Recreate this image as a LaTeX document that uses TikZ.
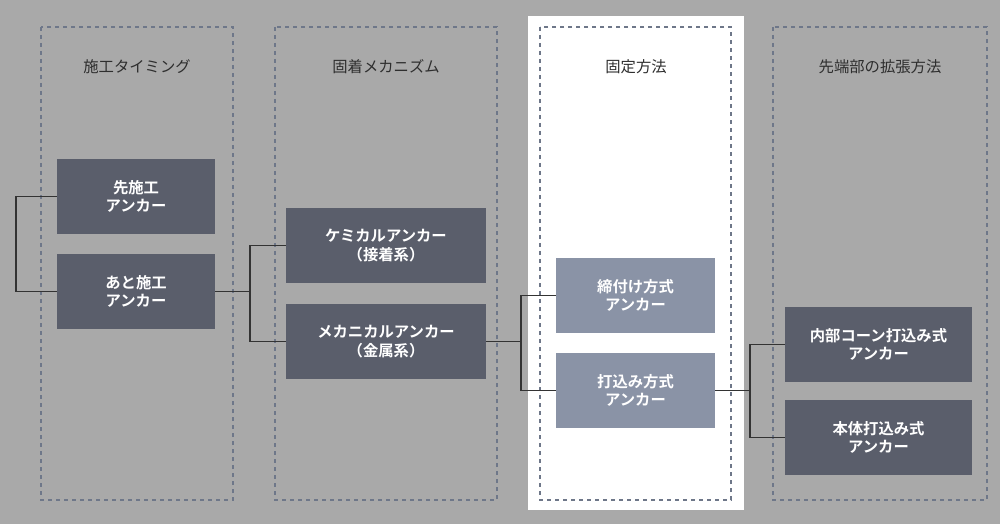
\documentclass[tikz,border=0pt]{standalone}
\usepackage{fontspec}
\setmainfont{Noto Sans CJK JP}
\newfontfamily\jpbold{Noto Sans CJK JP Bold}
\usetikzlibrary{positioning}
\definecolor{bgGray}{HTML}{A9A9A9}
\definecolor{boxDark}{HTML}{5A5E6B}
\definecolor{boxLight}{HTML}{8A93A6}
\definecolor{dashBlue}{HTML}{6E7789}
\definecolor{titleGray}{HTML}{2E2E2E}
\definecolor{lineDark}{HTML}{333333}
\tikzset{
  colframe/.style={draw=dashBlue,dashed,line width=0.9pt},
  typebox/.style={fill=boxDark,text=white,font=\jpbold\fontsize{11.5}{14}\selectfont,align=center,inner sep=0pt},
  typeboxlight/.style={typebox,fill=boxLight},
  coltitle/.style={text=titleGray,font=\fontsize{11.5}{14}\selectfont},
  link/.style={draw=lineDark,line width=1.2pt}
}
\begin{document}
\begin{tikzpicture}[x=0.75pt,y=0.75pt,yscale=-1,xscale=1]
    % background
    \fill[bgGray] (0,0) rectangle (1000,524);
    \useasboundingbox (0,0) rectangle (1000,524);
    \fill[white] (528,16) rectangle (744,510);
    % column frames
    \draw[colframe] (41,27) rectangle (233,500);
    \draw[colframe] (275,27) rectangle (497,500);
    \draw[colframe] (540,27) rectangle (731,500);
    \draw[colframe] (773,27) rectangle (987,500);
    % column titles
    \node[coltitle] (t1) at (137,67) {施工タイミング};
    \node[coltitle] (t2) at (386,67) {固着メカニズム};
    \node[coltitle] (t3) at (636,67) {固定方法};
    \node[coltitle] (t4) at (880,67) {先端部の拡張方法};
    % boxes
    \node[typebox,minimum width=118.5pt,minimum height=56pt] (pre) at (136,196.5) {先施工\\アンカー};
    \node[typebox,minimum width=118.5pt,minimum height=56pt] (post) at (136,291.5) {あと施工\\アンカー};
    \node[typebox,minimum width=150pt,minimum height=56pt] (chem) at (386,245.5) {ケミカルアンカー\\（接着系）};
    \node[typebox,minimum width=150pt,minimum height=56pt] (mech) at (386,341.5) {メカニカルアンカー\\（金属系）};
    \node[typeboxlight,minimum width=119pt,minimum height=56pt] (tight) at (635.5,295.5) {締付け方式\\アンカー};
    \node[typeboxlight,minimum width=119pt,minimum height=56pt] (drive) at (635.5,390.5) {打込み方式\\アンカー};
    \node[typebox,minimum width=140pt,minimum height=56pt] (cone) at (878.5,344.5) {内部コーン打込み式\\アンカー};
    \node[typebox,minimum width=140pt,minimum height=56pt] (body) at (878.5,437.5) {本体打込み式\\アンカー};
    % connectors
    \coordinate (b1) at (16,244);
    \draw[link] (pre.west) -| (b1) |- (post.west);
    \draw[link] (post.east) -- (250,291.5) coordinate (b2);
    \draw[link] (chem.west) -| (b2) |- (mech.west);
    \draw[link] (mech.east) -- (521,341.5) coordinate (b3);
    \draw[link] (tight.west) -| (b3) |- (drive.west);
    \draw[link] (drive.east) -- (750,390.5) coordinate (b4);
    \draw[link] (cone.west) -| (b4) |- (body.west);
\end{tikzpicture}
\end{document}
